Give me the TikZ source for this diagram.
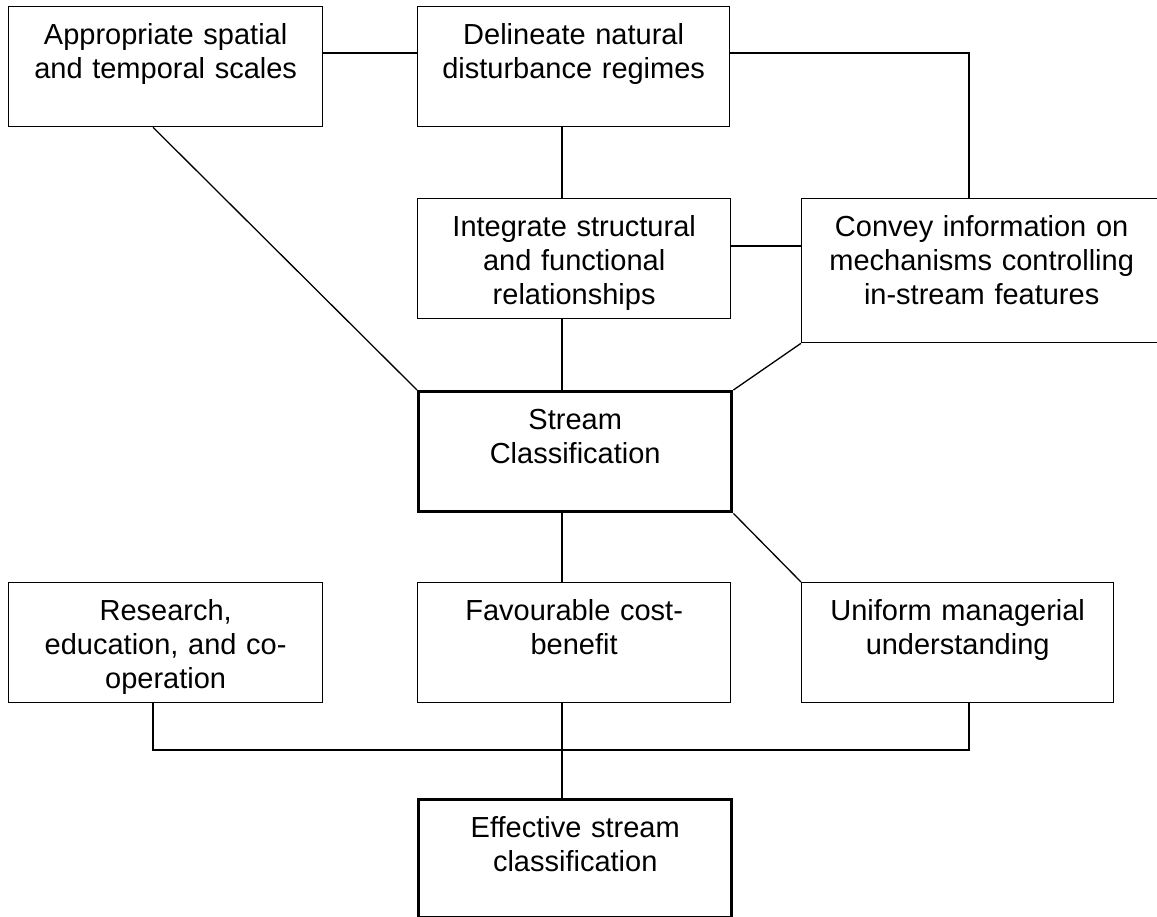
\documentclass[tikz,border=0pt]{standalone}
\usepackage{fontspec}
\setmainfont{Liberation Sans}
\usetikzlibrary{positioning}

\tikzset{
  box/.style={draw, line width=1.3pt, anchor=north west, inner sep=0pt,
    text width=313pt, align=center, text height=38pt, text depth=82pt,
    font=\fontsize{29}{34}\selectfont},
  keybox/.style={box, line width=3.4pt},
  link/.style={line width=1.3pt}
}

\begin{document}
\begin{tikzpicture}[x=1pt, y=-1pt]
    \useasboundingbox (0,0) rectangle (1157,917);
    \clip (0,0) rectangle (1157,917);
    % boxes
    \node[box, text width=314pt] (scales) at (8,6) {Appropriate spatial\\and temporal scales};
    \node[box, text width=312pt] (regimes) at (417,6) {Delineate natural\\disturbance regimes};
    \node[box] (integrate) at (417,198) {Integrate structural\\and functional\\relationships};
    \node[box, text width=360pt, text depth=106pt] (convey) at (801,198)
        {Convey information on\\mechanisms controlling\\in-stream features};
    \node[keybox] (stream) at (417,390) {Stream\\Classification};
    \node[box, text width=314pt] (research) at (8,582) {Research,\\education, and co-\\operation};
    \node[box] (cost) at (417,582) {Favourable cost-\\benefit};
    \node[box, text width=312pt] (uniform) at (801,582) {Uniform managerial\\understanding};
    \node[keybox, text depth=80pt] (effective) at (417,798) {Effective stream\\classification};
    % where the lines run
    \coordinate (lx) at (153,0);
    \coordinate (sx) at (562,0);
    \coordinate (rx) at (969,0);
    \coordinate (top) at (0,53);
    \coordinate (mid) at (0,246);
    \coordinate (bus) at (0,750);
    % connectors
    \draw[link] (scales.east |- top) -- (regimes.west |- top);
    \draw[link] (regimes.east |- top) -| (convey.north -| rx);
    \draw[link] (regimes.south -| sx) -- (integrate.north -| sx);
    \draw[link] (integrate.east |- mid) -- (convey.west |- mid);
    \draw[link] (integrate.south -| sx) -- (stream.north -| sx);
    \draw[link] (scales.south -| lx) -- (stream.north west);
    \draw[link] (convey.south west) -- (stream.north east);
    \draw[link] (stream.south -| sx) -- (cost.north -| sx);
    \draw[link] (stream.south east) -- (uniform.north west);
    \draw[link] (research.south -| lx) |- (bus -| rx) -- (uniform.south -| rx);
    \draw[link] (cost.south -| sx) -- (effective.north -| sx);
\end{tikzpicture}
\end{document}
